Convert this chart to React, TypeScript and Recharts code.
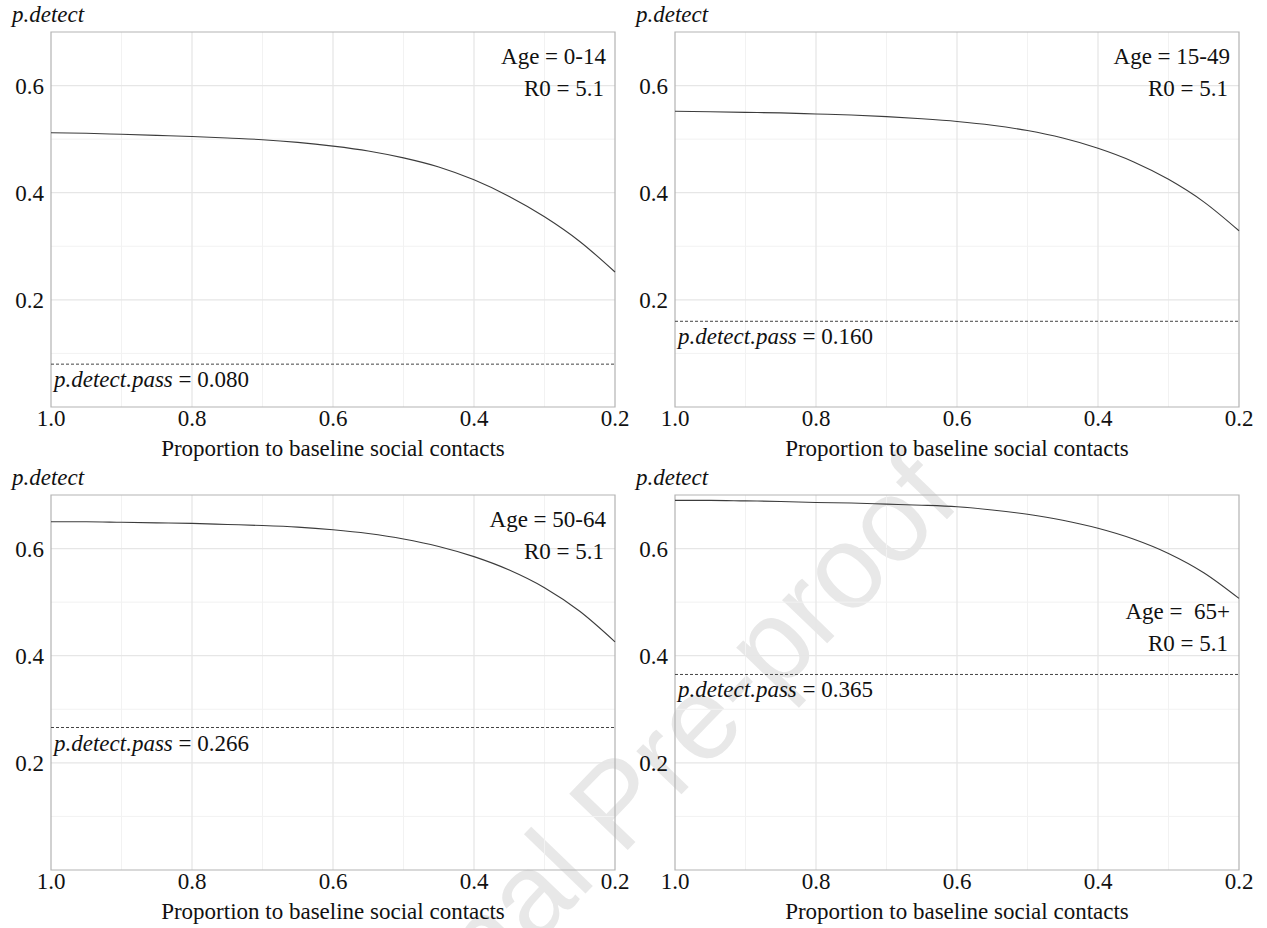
import { LineChart, Line, XAxis, YAxis, CartesianGrid, ReferenceLine, ReferenceArea } from 'recharts'

// proportion of baseline social contacts (x), shared by all four panels
const contactProportion = [1.0, 0.95, 0.9, 0.85, 0.8, 0.75, 0.7, 0.65, 0.6, 0.55, 0.5, 0.45, 0.4, 0.35, 0.3, 0.25, 0.2]

// p.detect
const pDetectAge0to14 = [0.512, 0.511, 0.509, 0.507, 0.505, 0.502, 0.499, 0.494, 0.487, 0.478, 0.465, 0.448, 0.424, 0.393, 0.355, 0.309, 0.252]
const pDetectAge15to49 = [0.552, 0.551, 0.55, 0.549, 0.547, 0.545, 0.542, 0.538, 0.533, 0.526, 0.516, 0.502, 0.483, 0.458, 0.425, 0.383, 0.329]
const pDetectAge50to64 = [0.65, 0.65, 0.649, 0.648, 0.647, 0.645, 0.643, 0.64, 0.635, 0.628, 0.618, 0.604, 0.585, 0.56, 0.527, 0.483, 0.426]
const pDetectAge65plus = [0.69, 0.69, 0.689, 0.688, 0.686, 0.685, 0.683, 0.681, 0.678, 0.672, 0.664, 0.653, 0.638, 0.618, 0.591, 0.555, 0.507]

const ageGroups = ['0-14', '15-49', '50-64', ' 65+']
const pDetectPass = [0.08, 0.16, 0.266, 0.365]
const pDetectPassText = ['0.080', '0.160', '0.266', '0.365']
const r0Text = '5.1'

const xTicks = [1.0, 0.8, 0.6, 0.4, 0.2]
const xMinor = [0.9, 0.7, 0.5, 0.3]
const yTicks = [0.2, 0.4, 0.6]
const yMinor = [0.1, 0.3, 0.5]

// where the "Age" / "R0" text sits on the y scale in each panel
const annotationY = [
  [0.656, 0.596],
  [0.656, 0.596],
  [0.656, 0.596],
  [0.483, 0.423],
]

const series = [pDetectAge0to14, pDetectAge15to49, pDetectAge50to64, pDetectAge65plus]

const SERIF = "'Liberation Serif', 'Times New Roman', serif"
const FONT_SIZE = 23
const W = 633
const H = 464

const txt = { fontFamily: SERIF, fontSize: FONT_SIZE }

function Panel({ idx }: { idx: number }) {
  const data = contactProportion.map((x, i) => ({ x, y: series[idx][i] }))
  const [ageY, r0Y] = annotationY[idx]

  return (
    <LineChart width={W} height={H} data={data} margin={{ top: 32, right: 18, bottom: 0, left: 0 }}>
      <CartesianGrid horizontalValues={yMinor} verticalValues={xMinor} stroke="#f2f2f2" strokeWidth={1} />
      <CartesianGrid horizontalValues={yTicks} verticalValues={xTicks.slice(1, 4)} stroke="#e6e6e6" strokeWidth={1.3} />
      <XAxis
        dataKey="x"
        type="number"
        domain={[0.2, 1.0]}
        reversed
        ticks={xTicks}
        tickFormatter={(v: number) => v.toFixed(1)}
        axisLine={false}
        tickLine={false}
        tickSize={0}
        tickMargin={3}
        height={57}
        interval={0}
        tick={{ style: txt, fill: '#111' }}
        label={(p: any) => (
          <text
            x={p.viewBox.x + p.viewBox.width / 2}
            y={p.viewBox.y + 49}
            textAnchor="middle"
            style={txt}
            fill="#111"
          >
            Proportion to baseline social contacts
          </text>
        )}
      />
      <YAxis
        type="number"
        domain={[0, 0.7]}
        ticks={yTicks}
        tickFormatter={(v: number) => v.toFixed(1)}
        axisLine={false}
        tickLine={false}
        tickSize={0}
        tickMargin={7}
        width={51}
        interval={0}
        tick={{ style: txt, fill: '#111' }}
        label={(p: any) => (
          <text x={p.viewBox.x + 12} y={p.viewBox.y - 10} style={{ ...txt, fontStyle: 'italic' }} fill="#111">
            p.detect
          </text>
        )}
      />
      <ReferenceArea x1={0.2} x2={1.0} y1={0} y2={0.7} fill="none" stroke="#b3b3b3" strokeWidth={1.2} ifOverflow="visible" />
      <ReferenceLine
        y={pDetectPass[idx]}
        stroke="#444"
        strokeWidth={1}
        strokeDasharray="3 2"
        label={(p: any) => (
          <text x={p.viewBox.x + 3} y={p.viewBox.y + 23} style={txt} fill="#111">
            <tspan style={{ fontStyle: 'italic' }}>p.detect.pass</tspan>
            <tspan>{' = ' + pDetectPassText[idx]}</tspan>
          </text>
        )}
      />
      <ReferenceLine
        y={ageY}
        stroke="none"
        label={(p: any) => (
          <text
            x={p.viewBox.x + p.viewBox.width - 9}
            y={p.viewBox.y + 8}
            textAnchor="end"
            style={{ ...txt, whiteSpace: 'pre' }}
            fill="#111"
          >
            {'Age = ' + ageGroups[idx]}
          </text>
        )}
      />
      <ReferenceLine
        y={r0Y}
        stroke="none"
        label={(p: any) => (
          <text
            x={p.viewBox.x + p.viewBox.width - 11}
            y={p.viewBox.y + 8}
            textAnchor="end"
            style={txt}
            fill="#111"
          >
            {'R0 = ' + r0Text}
          </text>
        )}
      />
      <Line type="monotone" dataKey="y" stroke="#3c3c3c" strokeWidth={1.1} dot={false} isAnimationActive={false} />
    </LineChart>
  )
}

const positions = [
  { left: 0, top: 0 },
  { left: 624, top: 0 },
  { left: 0, top: 463 },
  { left: 624, top: 463 },
]

export default function App() {
  return (
    <div
      style={{
        position: 'absolute',
        left: 0,
        top: 0,
        width: 1267,
        height: 928,
        background: '#fff',
        overflow: 'hidden',
        fontFamily: SERIF,
      }}
    >
      <svg width={1267} height={928} style={{ position: 'absolute', left: 0, top: 0 }}>
        <text
          x={646}
          y={831}
          textAnchor="middle"
          style={{ fontFamily: "'Liberation Sans', Arial, sans-serif", fontSize: 118 }}
          fill="#e8e8e8"
          transform="rotate(-46 646 831)"
        >
          Journal Pre-proof
        </text>
      </svg>
      {positions.map((pos, i) => (
        <div key={i} style={{ position: 'absolute', left: pos.left, top: pos.top }}>
          <Panel idx={i} />
        </div>
      ))}
    </div>
  )
}
